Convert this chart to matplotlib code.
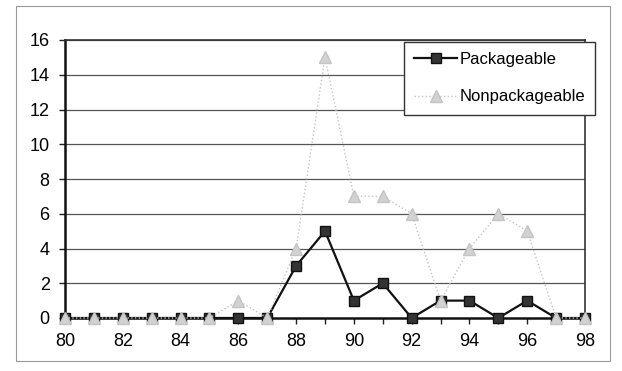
import matplotlib.pyplot as plt
from matplotlib.patches import Rectangle

# === Données ===
annees = list(range(80, 99))
packageable = [0, 0, 0, 0, 0, 0, 0, 0, 3, 5, 1, 2, 0, 1, 1, 0, 1, 0, 0]
nonpackageable = [0, 0, 0, 0, 0, 0, 1, 0, 4, 15, 7, 7, 6, 1, 4, 6, 5, 0, 0]
yticks = list(range(0, 17, 2))

plt.rcParams['font.family'] = ['Liberation Sans', 'DejaVu Sans']

W, H = 622, 371
fig = plt.figure(figsize=(W / 100, H / 100), dpi=100)
ax = fig.add_axes([65 / W, 1 - 318 / H, (585 - 65) / W, (318 - 40) / H])

# cadre extérieur du graphique
fig.patches.append(Rectangle((16 / W, 1 - 361 / H), (610 - 16) / W, (361 - 6) / H,
                             transform=fig.transFigure, fill=False,
                             edgecolor='#9a9a9a', linewidth=0.8))

# grille horizontale
for y in yticks[1:]:
    ax.axhline(y, color='#555555', linewidth=0.9, zorder=1)

ax.plot(annees, packageable, color='#111111', linewidth=1.6, marker='s',
        markersize=7.5, markerfacecolor='#333333', markeredgecolor='#111111',
        label='Packageable', zorder=3, clip_on=False)
ax.plot(annees, nonpackageable, color='#c4c4c4', linewidth=1.0, linestyle=':',
        marker='^', markersize=8, markerfacecolor='#d2d2d2',
        markeredgecolor='#c4c4c4', label='Nonpackageable', zorder=4, clip_on=False)

ax.set_xlim(80, 98)
ax.set_ylim(0, 16)
ax.set_xticks(annees)
ax.set_xticklabels([str(a) if a % 2 == 0 else '' for a in annees])
ax.set_yticks(yticks)
ax.tick_params(axis='both', labelsize=13, direction='out', length=4,
               width=1, colors='#222222', labelcolor='black')
ax.tick_params(axis='x', pad=7)
ax.tick_params(axis='y', pad=7)

for cote in ['left', 'bottom']:
    ax.spines[cote].set_linewidth(1.8)
    ax.spines[cote].set_color('#111111')
for cote in ['top', 'right']:
    ax.spines[cote].set_linewidth(1.2)
    ax.spines[cote].set_color('#333333')
for s in ax.spines.values():
    s.set_zorder(2)

leg = ax.legend(loc='upper left', bbox_to_anchor=((404 - 65) / (585 - 65), 1.0 - 2 / 278),
                frameon=True, fancybox=False, fontsize=12, borderpad=0.6,
                labelspacing=1.35, handlelength=2.6, handletextpad=0.15,
                borderaxespad=0)
leg.get_frame().set_edgecolor('#333333')
leg.get_frame().set_linewidth(1.0)
leg.get_frame().set_alpha(1)
leg.set_zorder(5)

fig.savefig('out.png', dpi=100)
